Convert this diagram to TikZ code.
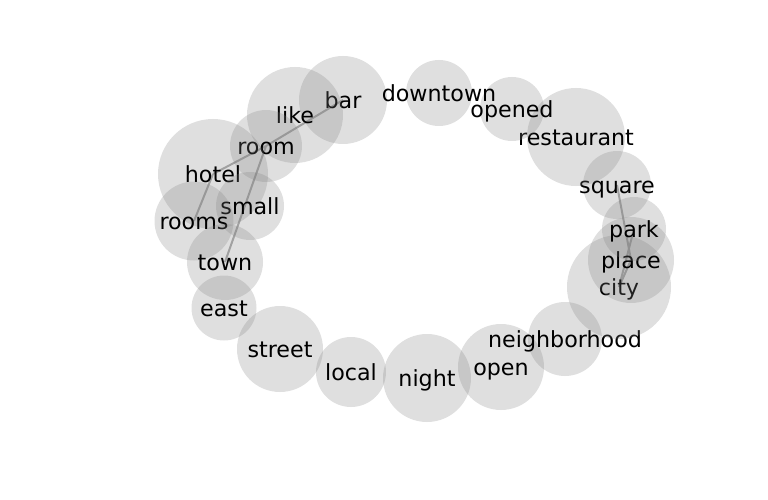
\documentclass[tikz,border=0pt]{standalone}
\usepackage{fontspec}
\setmainfont{DejaVu Sans}
\usepackage{tikz}
\usetikzlibrary{backgrounds}

\newcommand{\wordfont}{\fontsize{22.2}{26}\selectfont}
\tikzset{
	bubble/.style={circle,fill=gray,fill opacity=0.25,inner sep=0pt,
		label={[text opacity=1,fill opacity=1,font=\wordfont,inner sep=0pt,
			text height=0.76em,text depth=0.21em,yshift=-6pt]center:#1}},
	link/.style={line width=2pt,black!32}
}

\begin{document}
\begin{tikzpicture}[x=1pt,y=-1pt]
	\useasboundingbox (0,0) rectangle (768,500);

	% left arc
	\node[bubble=bar,minimum size=88pt] (bar) at (343,100) {};
	\node[bubble=like,minimum size=96pt] (like) at (295,115) {};
	\node[bubble=room,minimum size=72pt] (room) at (266,146) {};
	\node[bubble=hotel,minimum size=110pt] (hotel) at (213,174) {};
	\node[bubble=small,minimum size=68pt] (small) at (250,206) {};
	\node[bubble=rooms,minimum size=79pt] (rooms) at (194,221) {};
	\node[bubble=town,minimum size=76pt] (town) at (225,262) {};
	\node[bubble=east,minimum size=65pt] (east) at (224,308) {};

	% bottom arc
	\node[bubble=street,minimum size=86pt] (street) at (280,349) {};
	\node[bubble=local,minimum size=70pt] (local) at (351,372) {};
	\node[bubble=night,minimum size=88pt] (night) at (427,378) {};
	\node[bubble=open,minimum size=86pt] (open) at (501,367) {};
	\node[bubble=neighborhood,minimum size=74pt] (neighborhood) at (565,339) {};

	% right arc
	\node[bubble=city,minimum size=104pt] (city) at (619,287) {};
	\node[bubble=place,minimum size=86pt] (place) at (631,260) {};
	\node[bubble=park,minimum size=64pt] (park) at (634,229) {};
	\node[bubble=square,minimum size=68pt] (square) at (617,185) {};
	\node[bubble=restaurant,minimum size=98pt] (restaurant) at (576,137) {};
	\node[bubble=opened,minimum size=64pt] (opened) at (512,109) {};
	\node[bubble=downtown,minimum size=66pt] (downtown) at (439,93) {};

	% links
	\begin{scope}[on background layer]
		\draw[link] (hotel.center) -- (room.center);
		\draw[link] (room.center) -- (bar.center);
		\draw[link] (room.center) -- (town.center);
		\draw[link] (hotel.center) -- (rooms.center);
		\draw[link] (square.center) -- (place.center);
		\draw[link] (place.center) -- (city.center);
		\draw[link] (park.center) -- (city.center);
	\end{scope}
\end{tikzpicture}
\end{document}
